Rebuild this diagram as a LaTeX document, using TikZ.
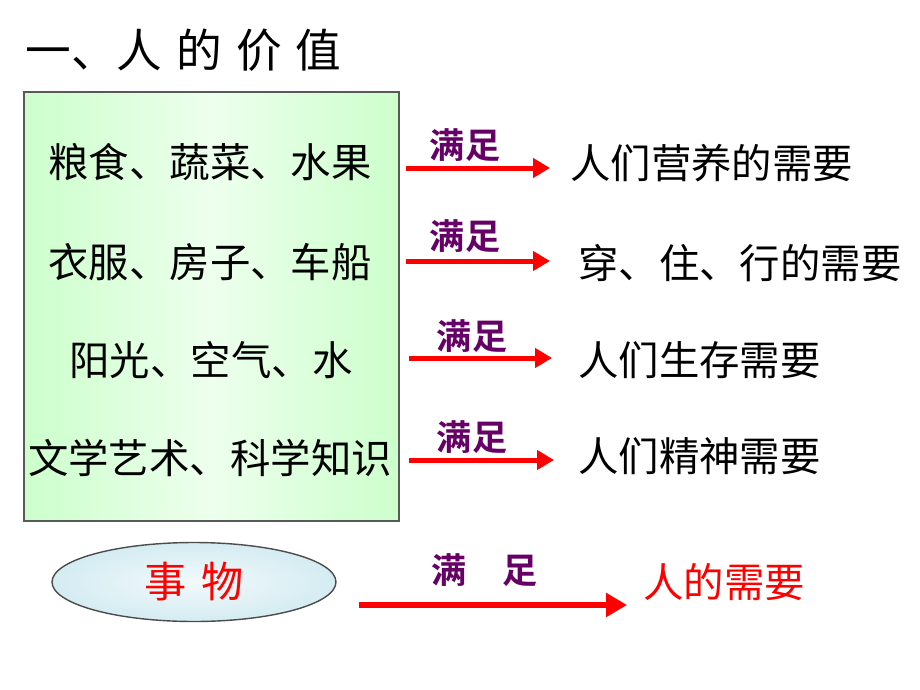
\documentclass[tikz,border=0pt]{standalone}
\usepackage{fontspec}
\setmainfont{Noto Sans CJK SC}[BoldFont={Noto Sans CJK SC Bold}]
\usetikzlibrary{arrows.meta,shapes.geometric}
\definecolor{zupurple}{RGB}{102,0,102}
\definecolor{boxgreen}{RGB}{204,255,204}
\definecolor{ovalblue}{RGB}{212,236,242}
\newcommand{\titlefont}{\fontsize{26pt}{30pt}\selectfont}
\newcommand{\rowfont}{\fontsize{23pt}{27pt}\selectfont}
\newcommand{\zufont}{\fontsize{20pt}{24pt}\selectfont\bfseries}
\newcommand{\gap}{\hspace{0.28cm}}
\begin{document}
\begin{tikzpicture}[x=0.02cm,y=-0.02cm]
            \tikzset{
	txt/.style={inner sep=0, font=\rowfont},
	zu/.style={inner sep=0, font=\zufont, text=zupurple},
	satisfy/.style={draw=red, line width=0.1cm, -{Triangle[length=0.34cm,width=0.38cm]}},
	bigsatisfy/.style={draw=red, line width=0.12cm, -{Triangle[length=0.42cm,width=0.46cm]}}
}
\useasboundingbox (0,0) rectangle (920,690);

\node (title) [inner sep=0, anchor=west, font=\titlefont] at (25,50) {一、人\gap 的\gap 价\gap 值};

% box of things
\node (box) [draw=black!65, line width=0.8pt, left color=boxgreen, right color=boxgreen, middle color=boxgreen!35,
	minimum width=7.5cm, minimum height=8.58cm, inner sep=0] at (211.5,306.5) {};
\node (src1) [txt] at (210,162) {粮食、蔬菜、水果};
\node (src2) [txt] at (210,262) {衣服、房子、车船};
\node (src3) [txt] at (211,360) {阳光、空气、水};
\node (src4) [txt] at (210,458) {文学艺术、科学知识};

% needs
\node (tgt1) [txt, anchor=west] at (570,163) {人们营养的需要};
\node (tgt2) [txt, anchor=west] at (578,263) {穿、住、行的需要};
\node (tgt3) [txt, anchor=west] at (578,360) {人们生存需要};
\node (tgt4) [txt, anchor=west] at (578,456) {人们精神需要};

\coordinate (e1) at (550,168);
\coordinate (e2) at (550,261);
\coordinate (e3) at (552,358);
\coordinate (e4) at (554,460);
\draw[satisfy] (box.east |- e1) ++(6,0) -- (e1);
\draw[satisfy] (box.east |- e2) ++(6,0) -- (e2);
\draw[satisfy] (box.east |- e3) ++(9,0) -- (e3);
\draw[satisfy] (box.east |- e4) ++(9,0) -- (e4);
\node (zu1) [zu] at (465,145) {满足};
\node (zu2) [zu] at (465,236) {满足};
\node (zu3) [zu] at (472,336) {满足};
\node (zu4) [zu] at (472,437) {满足};

% summary
\node (thing) [ellipse, draw=black!70, line width=0.8pt, inner color=ovalblue!30, outer color=ovalblue,
	minimum width=5.68cm, minimum height=1.58cm, inner sep=0, text=red, font=\fontsize{24pt}{28pt}\selectfont]
	at (194,582) {事\hspace{0.3cm}物};
\node (need) [txt, anchor=west, text=red] at (643,582) {人的需要};
\coordinate (e5) at (627,605);
\draw[bigsatisfy] (thing.east |- e5) ++(22,0) -- (e5);
\node (zu5) [zu] at (485,570) {满\hspace{0.72cm}足};
        \end{tikzpicture}
\end{document}
